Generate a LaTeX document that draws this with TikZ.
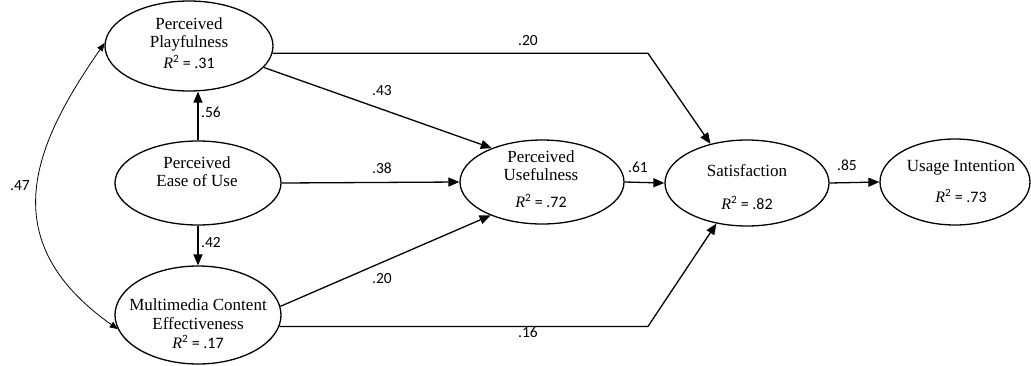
\documentclass[tikz,border=0pt]{standalone}
\usepackage{fontspec}
\setmainfont{Liberation Serif}
\newfontfamily\numfont{Carlito}
\usetikzlibrary{shapes.geometric,arrows.meta}
\begin{document}
\begin{tikzpicture}[x=1pt,y=-1pt,
  lat/.style={ellipse,draw,line width=1.3pt,inner sep=0pt},
  txt/.style={anchor=mid,inner sep=0pt,font=\fontsize{17}{19}\selectfont},
  rsq/.style={anchor=mid,inner sep=0pt,font=\numfont\fontsize{16}{18}\selectfont},
  coef/.style={anchor=mid,inner sep=0pt,font=\numfont\fontsize{15.5}{18}\selectfont},
  arr/.style={line width=1.3pt,-{Triangle[length=11pt,width=9pt]}},
  cov/.style={line width=0.8pt,{Triangle[length=8pt,width=6.5pt]}-{Triangle[length=8pt,width=6.5pt]}}]
\useasboundingbox (0,0) rectangle (1031,365);
% latent variables
\node[lat,minimum width=168pt,minimum height=90pt] (pp) at (189,46) {};
\node[lat,minimum width=166pt,minimum height=84pt] (peou) at (198,183) {};
\node[lat,minimum width=166pt,minimum height=98pt] (mm) at (198,315) {};
\node[lat,minimum width=164pt,minimum height=84pt] (pu) at (542,182) {};
\node[lat,minimum width=164pt,minimum height=86pt] (sat) at (747,183) {};
\node[lat,minimum width=150pt,minimum height=86pt] (ui) at (955,182) {};
% texts
\node[txt] (pp1) at (189,27) {Perceived};
\node[txt] (pp2) at (189,45) {Playfulness};
\node[rsq] (pp3) at (189,66) {{\rmfamily\itshape R}\textsuperscript{2} = .31};
\node[txt] (peou1) at (197,166) {Perceived};
\node[txt] (peou2) at (197,184) {Ease of Use};
\node[txt] (mm1) at (198,308) {Multimedia Content};
\node[txt] (mm2) at (198,327) {Effectiveness};
\node[rsq] (mm3) at (198,346) {{\rmfamily\itshape R}\textsuperscript{2} = .17};
\node[txt] (pu1) at (541,160) {Perceived};
\node[txt] (pu2) at (541,178) {Usefulness};
\node[rsq] (pu3) at (541,205) {{\rmfamily\itshape R}\textsuperscript{2} = .72};
\node[txt] (sat1) at (747,174) {Satisfaction};
\node[rsq] (sat2) at (747,207) {{\rmfamily\itshape R}\textsuperscript{2} = .82};
\node[txt] (ui1) at (961,169) {Usage Intention};
\node[rsq] (ui2) at (961,200) {{\rmfamily\itshape R}\textsuperscript{2} = .73};
% paths
\coordinate (c1) at (648,52);
\coordinate (c2) at (648,327);
\draw[arr] (pp.-16) -- (pu.146);
\draw[arr] (mm.6) -- (pu.-147);
\draw[arr] (peou.east) -- (pu.west);
\draw[arr] (pu.east) -- (sat.west);
\draw[arr] (sat.east) -- (ui.west);
\draw[arr] (peou.north) -- (peou.north |- pp.south);
\draw[arr] (peou.south) -- (mm.north);
\draw[arr] (pp.-5) -- (pp.-5 -| c1) -- (sat.133);
\draw[arr] (mm.-8) -- (mm.-8 -| c2) -- (sat.233);
\draw[cov] (pp.178) .. controls (36,142) and (-10,239) .. (mm.190);
% coefficients
\node[coef] (k20a) at (528,43) {.20};
\node[coef] (k43) at (382,93) {.43};
\node[coef] (k38) at (382,171) {.38};
\node[coef] (k20b) at (382,281) {.20};
\node[coef] (k16) at (528,335) {.16};
\node[coef] (k61) at (638,170) {.61};
\node[coef] (k85) at (847,168) {.85};
\node[coef] (k56) at (211,115) {.56};
\node[coef] (k42) at (211,245) {.42};
\node[coef] (k47) at (20,188) {.47};
\end{tikzpicture}
\end{document}
